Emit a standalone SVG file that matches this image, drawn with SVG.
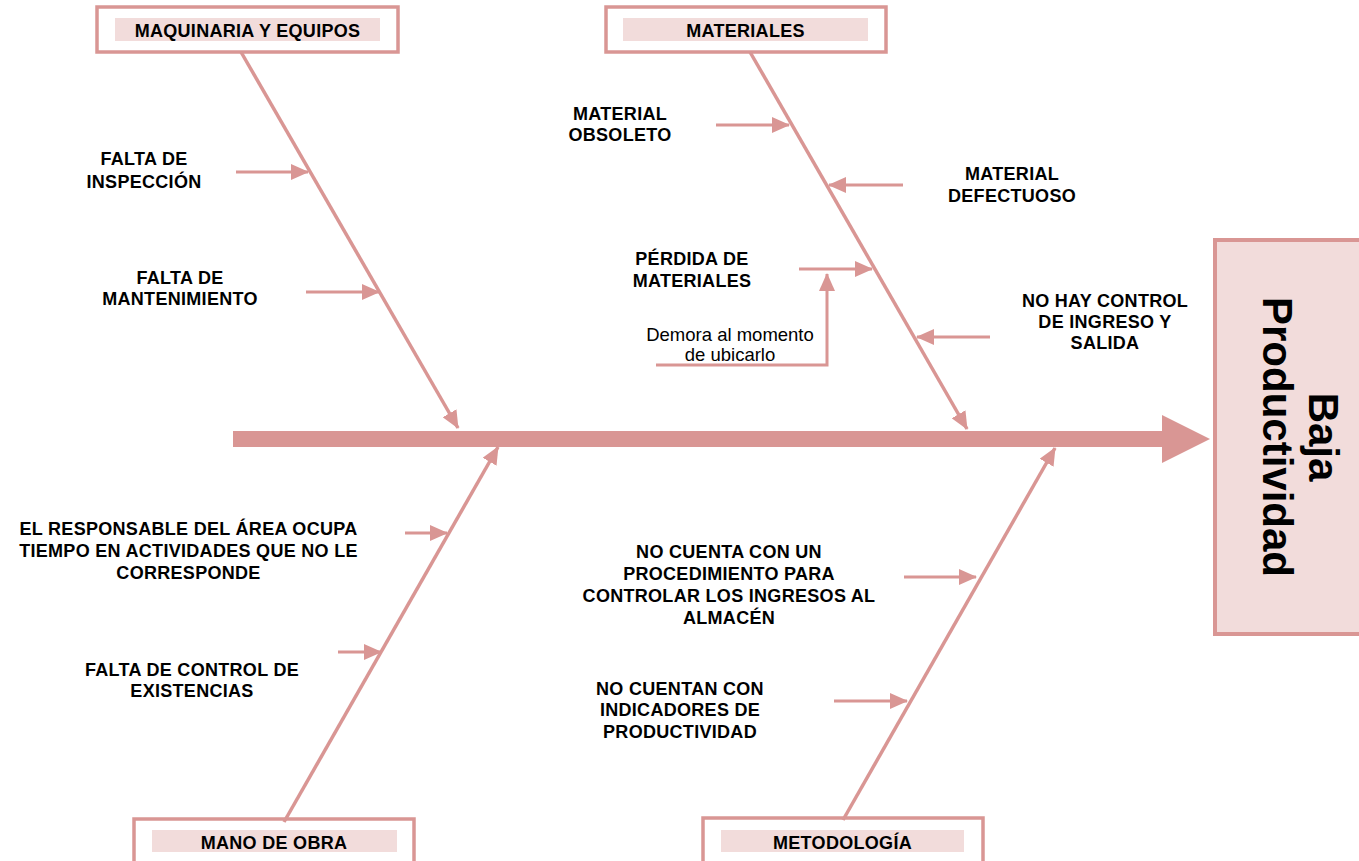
<svg xmlns="http://www.w3.org/2000/svg" width="1359" height="861" viewBox="0 0 1359 861">
  <style>
    .frame { fill: #ffffff; stroke: #D99694; stroke-width: 3.5; }
    .band { fill: #F2DCDB; stroke: none; }
    .title { font-family: "Liberation Sans", Arial, sans-serif; font-size: 18px; font-weight: bold; fill: #000; text-anchor: middle; letter-spacing: 0.3px; }
    .cause { font-family: "Liberation Sans", Arial, sans-serif; font-size: 18px; font-weight: bold; fill: #000; text-anchor: middle; letter-spacing: 0.3px; }
    .note { font-family: "Liberation Sans", Arial, sans-serif; font-size: 18.5px; fill: #000; text-anchor: middle; }
    .bone { stroke: #D99694; stroke-width: 3.5; fill: none; }
    .twig { stroke: #D99694; stroke-width: 3; fill: none; }
    .effect { font-family: "Liberation Sans", Arial, sans-serif; font-size: 42px; font-weight: bold; fill: #000; text-anchor: middle; }
  </style>
  <defs>
    <marker id="head" markerUnits="userSpaceOnUse" markerWidth="18" markerHeight="16" viewBox="0 0 18 16" refX="17" refY="8" orient="auto">
      <path d="M0,0 L18,8 L0,16 Z" fill="#D99694"/>
    </marker>
  </defs>

  <rect width="1359" height="861" fill="#ffffff"/>

  <!-- Category boxes -->
  <g id="maquinaria">
    <rect class="frame" x="97" y="7" width="301" height="45"/>
    <rect class="band" x="115" y="18" width="265" height="23"/>
    <text class="title" x="247.5" y="36.5">MAQUINARIA Y EQUIPOS</text>
  </g>
  <g id="materiales">
    <rect class="frame" x="606" y="7" width="280" height="45"/>
    <rect class="band" x="623" y="18" width="245" height="23"/>
    <text class="title" x="745.5" y="36.5">MATERIALES</text>
  </g>
  <g id="mano-de-obra">
    <rect class="frame" x="134" y="819" width="280" height="50"/>
    <rect class="band" x="152" y="830" width="245" height="22"/>
    <text class="title" x="274" y="848.5">MANO DE OBRA</text>
  </g>
  <g id="metodologia">
    <rect class="frame" x="703" y="818" width="280" height="50"/>
    <rect class="band" x="721" y="830" width="243" height="22"/>
    <text class="title" x="842.5" y="848.5">METODOLOGÍA</text>
  </g>

  <!-- Effect box -->
  <g id="efecto">
    <rect x="1215" y="240" width="150" height="394" fill="#F2DCDB" stroke="#D99694" stroke-width="4"/>
    <text class="effect" transform="translate(1309,437) rotate(90)">Baja</text>
    <text class="effect" transform="translate(1263,437) rotate(90)">Productividad</text>
  </g>

  <!-- Connectors -->
  <g id="connectors">
    <!-- spine -->
    <rect x="233" y="431" width="930" height="16" fill="#D99694"/>
    <path d="M1162,415 L1210,439 L1162,463 Z" fill="#D99694"/>
    <!-- main bones -->
    <line class="bone" x1="241" y1="52" x2="458" y2="428" marker-end="url(#head)"/>
    <line class="bone" x1="750" y1="52" x2="967" y2="429" marker-end="url(#head)"/>
    <line class="bone" x1="284" y1="822" x2="498" y2="447" marker-end="url(#head)"/>
    <line class="bone" x1="843" y1="820" x2="1055" y2="448" marker-end="url(#head)"/>
    <!-- causes -->
    <line class="twig" x1="236" y1="172" x2="308" y2="172" marker-end="url(#head)"/>
    <line class="twig" x1="306" y1="292" x2="379" y2="292" marker-end="url(#head)"/>
    <line class="twig" x1="716" y1="125" x2="789" y2="125" marker-end="url(#head)"/>
    <line class="twig" x1="903" y1="185" x2="829" y2="185" marker-end="url(#head)"/>
    <line class="twig" x1="799" y1="269" x2="872" y2="269" marker-end="url(#head)"/>
    <polyline class="twig" points="656,365 827,365 827,274" marker-end="url(#head)"/>
    <line class="twig" x1="990" y1="337" x2="917" y2="337" marker-end="url(#head)"/>
    <line class="twig" x1="405" y1="533" x2="447" y2="533" marker-end="url(#head)"/>
    <line class="twig" x1="338" y1="652" x2="381" y2="652" marker-end="url(#head)"/>
    <line class="twig" x1="904" y1="577" x2="976" y2="577" marker-end="url(#head)"/>
    <line class="twig" x1="834" y1="701" x2="907" y2="701" marker-end="url(#head)"/>
  </g>

  <!-- Cause labels -->
  <g id="falta-inspeccion">
    <text class="cause" x="144" y="164.5">FALTA DE</text>
    <text class="cause" x="144" y="187.5">INSPECCIÓN</text>
  </g>
  <g id="falta-mantenimiento">
    <text class="cause" x="180" y="283.5">FALTA DE</text>
    <text class="cause" x="180" y="304.5">MANTENIMIENTO</text>
  </g>
  <g id="material-obsoleto">
    <text class="cause" x="620" y="119.5">MATERIAL</text>
    <text class="cause" x="620" y="140.5">OBSOLETO</text>
  </g>
  <g id="material-defectuoso">
    <text class="cause" x="1012" y="179.5">MATERIAL</text>
    <text class="cause" x="1012" y="201.5">DEFECTUOSO</text>
  </g>
  <g id="perdida-materiales">
    <text class="cause" x="692" y="264.5">PÉRDIDA DE</text>
    <text class="cause" x="692" y="286.5">MATERIALES</text>
  </g>
  <g id="demora">
    <text class="note" x="730" y="340.5">Demora al momento</text>
    <text class="note" x="730" y="360.5">de ubicarlo</text>
  </g>
  <g id="control-ingreso">
    <text class="cause" x="1105" y="306.5">NO HAY CONTROL</text>
    <text class="cause" x="1105" y="327.5">DE INGRESO Y</text>
    <text class="cause" x="1105" y="348.5">SALIDA</text>
  </g>
  <g id="responsable">
    <text class="cause" x="188.5" y="534.5">EL RESPONSABLE DEL ÁREA OCUPA</text>
    <text class="cause" x="188.5" y="556.5">TIEMPO EN ACTIVIDADES QUE NO LE</text>
    <text class="cause" x="188.5" y="578.5">CORRESPONDE</text>
  </g>
  <g id="control-existencias">
    <text class="cause" x="192" y="675.5">FALTA DE CONTROL DE</text>
    <text class="cause" x="192" y="696.5">EXISTENCIAS</text>
  </g>
  <g id="procedimiento">
    <text class="cause" x="729" y="557.5">NO CUENTA CON UN</text>
    <text class="cause" x="729" y="579.5">PROCEDIMIENTO PARA</text>
    <text class="cause" x="729" y="601.5">CONTROLAR LOS INGRESOS AL</text>
    <text class="cause" x="729" y="623.5">ALMACÉN</text>
  </g>
  <g id="indicadores">
    <text class="cause" x="680" y="694.5">NO CUENTAN CON</text>
    <text class="cause" x="680" y="715.5">INDICADORES DE</text>
    <text class="cause" x="680" y="737.5">PRODUCTIVIDAD</text>
  </g>
</svg>
